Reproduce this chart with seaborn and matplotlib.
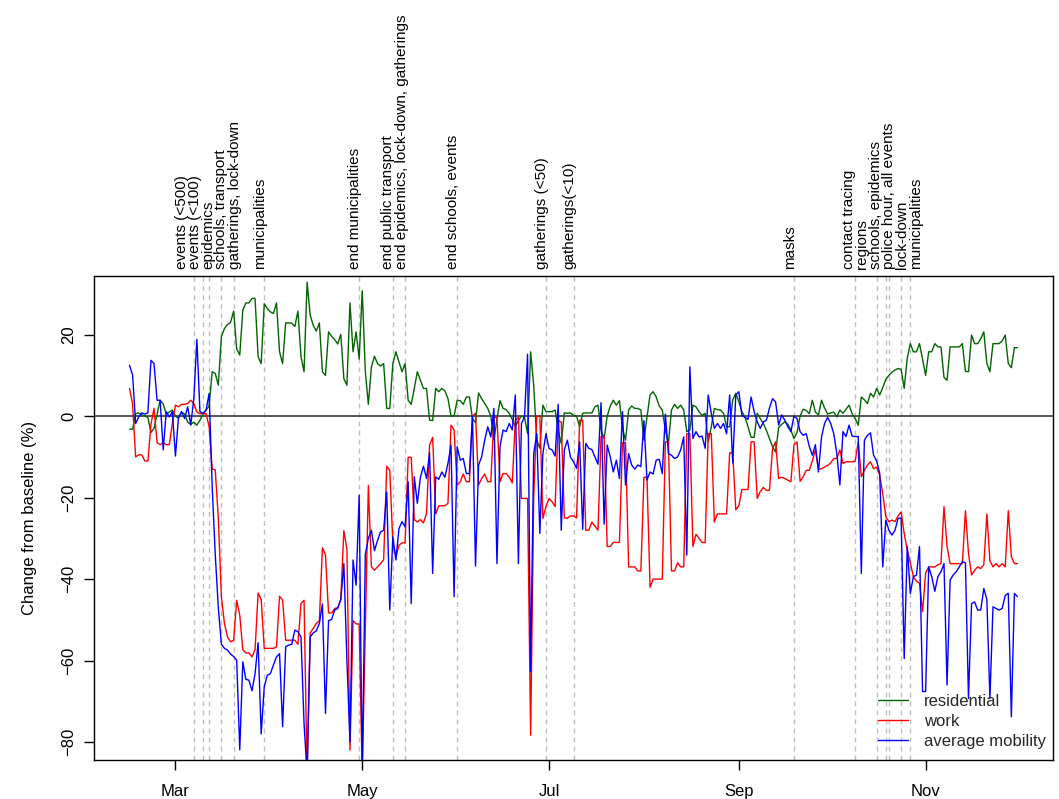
import matplotlib
matplotlib.use("Agg")
import matplotlib.pyplot as plt
import matplotlib.dates as mdates
import matplotlib.transforms as mtransforms
import numpy as np
import pandas as pd
import seaborn as sns

# ---------------- data ----------------
start_date = "2020-02-15"

residential = [
    -3.2, -3.2, 0.6, 0.8, 0.3, 0.0, -0.3, -4.0, -3.0, 0.5,
    3.9, 3.0, 0.5, 1.0, 1.5, 0.0, -0.5, 1.0, 0.5, -1.5,
    -2.0, -1.5, -2.2, -1.0, 0.5, 1.5, 2.5, 10.9, 10.5, 7.6,
    19.5, 21.5, 22.5, 23.0, 25.8, 16.5, 15.0, 26.0, 27.8, 27.8,
    28.9, 28.9, 14.6, 12.9, 27.6, 26.4, 25.6, 25.2, 27.8, 15.8,
    12.9, 22.9, 22.9, 22.8, 22.0, 25.8, 14.6, 10.9, 32.9, 24.8,
    22.3, 20.9, 22.9, 10.9, 10.0, 20.7, 19.6, 18.8, 17.7, 20.1,
    9.2, 7.6, 27.8, 15.8, 20.7, 14.0, 30.8, 11.0, 2.9, 12.1,
    14.7, 12.9, 12.3, 12.9, 1.9, 1.9, 12.9, 15.8, 13.3, 10.9,
    12.9, 3.9, 2.9, 6.8, 10.9, 8.8, 6.8, 6.8, -1.0, -1.1,
    6.8, 6.0, 6.8, 6.2, 4.3, 0.0, 0.0, 3.9, 3.8, 2.9,
    4.7, 4.7, -0.6, -1.6, 5.7, 4.3, 3.1, 1.9, 0.0, -5.9,
    -0.8, 3.8, 1.9, 1.6, 0.7, -0.8, -2.6, -1.0, 0.0, -0.3,
    -4.3, 15.8, 7.6, -5.9, -7.9, 2.7, 1.1, 1.1, 1.1, 1.5,
    -3.4, -6.7, 0.8, 0.7, 0.8, 0.2, 0.0, -2.6, 0.7, 0.8,
    0.8, 0.8, 2.3, 2.7, -3.4, -5.5, 0.0, 2.5, 3.9, 2.7,
    3.8, -3.0, -5.9, 1.5, 2.5, 1.9, 1.9, 1.5, -5.9, -0.2,
    5.2, 6.0, 4.7, 2.5, 1.5, -3.4, -6.7, 1.5, 2.9, 1.9,
    2.7, 1.5, -3.8, -3.4, 2.7, 2.3, 1.1, 0.2, 0.7, -6.3,
    -2.6, 1.9, 1.6, 1.5, 0.7, -2.6, -2.6, 4.0, 5.6, 3.5,
    1.1, -0.2, -2.6, -5.2, -5.2, 0.7, -0.6, -1.8, -3.5, -5.5,
    -7.5, -8.8, -2.8, -2.0, -1.4, -2.0, -3.4, -5.5, -4.0, 0.0,
    1.7, 1.4, 0.6, 3.9, 1.0, 0.3, 3.9, 2.0, 0.5, 0.8,
    1.0, -0.2, 1.5, 0.7, 1.7, 2.7, 0.6, -0.6, -2.2, 4.7,
    4.0, 3.1, 5.6, 4.7, 6.8, 5.2, 7.0, 9.0, 10.0, 10.8,
    11.3, 11.7, 11.5, 6.8, 14.2, 17.8, 15.8, 15.8, 17.8, 14.0,
    10.0, 15.8, 15.8, 17.8, 17.0, 17.0, 9.5, 8.8, 17.0, 17.0,
    17.0, 17.0, 17.8, 11.0, 10.9, 19.9, 17.8, 17.8, 19.0, 20.7,
    12.9, 10.9, 17.8, 17.8, 17.8, 18.5, 19.9, 12.9, 11.9, 16.8,
    16.8,
]

work = [
    6.8, 3.0, -10.0, -9.5, -9.5, -11.0, -11.0, -2.0, 1.9, -6.5,
    -7.0, -6.5, -7.0, -7.0, -1.8, 2.7, 2.3, 2.9, 2.9, 3.1,
    3.9, 3.1, 1.0, 0.6, 0.6, 0.6, -2.6, -13.0, -13.2, -25.0,
    -44.3, -50.9, -54.2, -55.4, -55.0, -45.2, -48.8, -57.3, -58.1, -58.1,
    -59.1, -57.3, -43.4, -45.0, -57.0, -57.0, -57.0, -57.0, -56.6, -44.2,
    -45.2, -55.0, -55.0, -55.0, -55.0, -56.0, -46.0, -45.2, -88.0, -53.2,
    -52.1, -50.9, -50.2, -32.3, -34.1, -48.3, -48.3, -47.2, -47.0, -45.0,
    -28.1, -32.7, -82.0, -50.2, -51.0, -51.0, -88.0, -52.0, -17.0, -37.0,
    -37.8, -37.0, -36.2, -35.2, -12.3, -13.3, -31.2, -34.5, -31.7, -31.1,
    -31.1, -10.1, -10.1, -25.4, -26.0, -25.4, -26.2, -23.9, -7.1, -5.2,
    -24.0, -22.0, -22.0, -22.0, -21.4, -2.2, -3.4, -16.9, -16.1, -14.2,
    -16.1, -16.1, 0.0, 0.7, -16.9, -15.3, -14.2, -16.1, -16.1, -0.3,
    -0.3, -16.1, -14.1, -14.1, -14.9, -16.4, -1.0, -0.3, -20.2, -20.2,
    -20.2, -78.3, -20.0, 0.0, 0.0, -25.1, -22.2, -20.2, -21.0, -22.2,
    -1.0, -1.5, -25.0, -25.0, -24.5, -24.5, -25.0, -1.0, -1.0, -28.0,
    -28.0, -26.0, -27.0, -28.0, -5.0, -5.0, -32.0, -32.0, -31.0, -31.0,
    -31.0, -6.5, -6.5, -37.0, -37.0, -37.0, -38.0, -38.0, -15.0, -15.0,
    -42.0, -40.0, -40.0, -40.0, -40.0, -6.3, -6.3, -38.0, -38.0, -36.0,
    -37.0, -37.0, -4.3, -4.3, -32.0, -29.0, -30.0, -31.0, -31.0, -4.3,
    -4.3, -26.0, -24.0, -24.0, -24.0, -24.0, -9.0, -9.0, -23.0, -22.0,
    -18.0, -18.0, -18.0, -6.3, -6.3, -20.2, -18.5, -17.5, -18.2, -18.2,
    -8.0, -6.3, -15.3, -15.0, -15.3, -15.7, -16.1, -7.0, -6.3, -16.0,
    -14.9, -13.3, -13.3, -11.0, -8.3, -13.0, -12.9, -12.5, -12.1, -11.5,
    -10.4, -10.4, -8.3, -11.6, -11.2, -11.2, -11.2, -11.0, -6.3, -14.9,
    -13.3, -12.0, -11.2, -12.9, -12.5, -14.5, -19.0, -24.7, -25.9, -25.5,
    -25.9, -24.5, -23.5, -28.8, -32.9, -36.0, -39.4, -40.5, -41.0, -48.0,
    -38.5, -37.0, -37.0, -37.0, -36.5, -36.2, -22.2, -32.0, -36.2, -36.2,
    -36.2, -36.2, -36.2, -23.2, -33.7, -39.0, -37.8, -37.0, -37.4, -36.5,
    -24.0, -35.5, -37.0, -36.2, -37.0, -36.2, -37.0, -23.2, -34.5, -36.2,
    -36.2,
]

average_mobility = [
    12.5, 10.1, -1.8, -0.2, 0.8, 0.5, 0.8, 13.7, 12.9, 3.9,
    3.9, -8.3, 1.1, -0.2, 1.1, -9.8, -0.2, 1.1, -0.6, 2.3,
    -2.2, 4.3, 18.8, 1.1, 0.7, 1.5, 5.6, -17.3, -34.0, -47.0,
    -56.0, -57.0, -57.4, -58.4, -59.0, -59.9, -81.9, -60.3, -64.6, -64.8,
    -67.4, -63.2, -55.6, -78.0, -66.4, -63.6, -63.2, -61.1, -59.1, -58.3,
    -76.2, -56.6, -56.2, -56.0, -52.5, -52.9, -54.2, -75.4, -88.0, -54.2,
    -53.2, -52.7, -50.9, -46.1, -73.0, -50.2, -49.9, -47.6, -47.2, -45.0,
    -36.2, -60.0, -80.0, -35.3, -41.5, -19.4, -88.0, -34.0, -30.0, -28.0,
    -33.0, -30.5, -28.4, -28.0, -18.6, -47.6, -29.6, -35.3, -27.6, -25.9,
    -27.2, -16.1, -46.0, -14.9, -21.4, -15.0, -12.3, -15.3, -9.0, -38.6,
    -14.9, -15.5, -13.7, -15.0, -11.6, -7.1, -44.3, -7.5, -10.8, -10.4,
    -14.1, -14.1, 0.0, -36.8, -12.0, -10.0, -5.9, -2.6, -5.1, 1.9,
    -36.2, -7.5, -3.4, -3.8, -1.8, -3.4, 5.2, -36.2, -1.8, -0.2,
    15.2, -62.7, -9.2, -4.3, -28.8, -9.2, -4.3, -7.9, -8.3, -9.8,
    2.9, -28.0, -8.3, -5.9, -10.0, -11.2, -12.8, -6.3, -27.8, -6.7,
    -7.9, -8.2, -10.0, -11.8, 3.3, -26.5, -7.1, -10.0, -13.7, -10.8,
    -15.3, 1.1, -16.9, -9.2, -12.0, -13.0, -12.0, -12.4, -1.1, -15.7,
    -13.7, -14.2, -10.8, -10.6, -14.1, 0.5, -9.2, -9.6, -10.4, -10.0,
    -8.3, -5.1, -34.1, 12.1, -5.5, -3.8, -5.1, -4.9, -7.9, 5.2,
    0.7, -3.0, -1.8, -3.0, -1.8, -4.3, 5.2, -11.5, 5.2, 6.0,
    0.2, -0.3, -0.8, 4.7, 1.1, -1.4, -3.0, -1.4, -1.0, 2.0,
    4.3, 3.5, -2.2, 0.3, -1.0, -2.6, -3.8, 0.0, -0.6, -3.8,
    -4.7, -4.3, -7.4, -9.6, -7.0, -13.7, -5.1, -1.8, -0.3, -1.8,
    -4.3, -9.2, -16.9, -3.8, -5.0, -2.2, -4.9, -5.0, -5.0, -38.6,
    -5.9, -4.7, -4.1, -9.6, -11.0, -14.0, -37.0, -25.5, -28.0, -29.2,
    -28.0, -25.1, -25.0, -59.5, -32.0, -43.5, -39.4, -39.0, -32.0, -67.6,
    -67.6, -37.0, -39.4, -43.0, -39.4, -38.2, -36.2, -66.0, -40.2, -39.0,
    -38.2, -37.0, -35.7, -36.0, -69.3, -46.0, -45.6, -47.6, -47.6, -42.3,
    -45.0, -69.3, -46.8, -47.2, -47.6, -47.2, -44.0, -43.5, -73.8, -43.5,
    -44.3,
]

series_names = ["residential", "work", "average mobility"]
series_colors = ["#006400", "#ff0000", "#0000ff"]

intervention_dates = [
    "2020-03-07", "2020-03-10", "2020-03-12", "2020-03-16", "2020-03-20",
    "2020-03-30", "2020-04-30", "2020-05-11", "2020-05-15", "2020-06-01",
    "2020-06-30", "2020-07-09", "2020-09-19", "2020-10-09", "2020-10-16",
    "2020-10-19", "2020-10-20", "2020-10-24", "2020-10-27",
]
intervention_labels = [
    "events (<500)", "events (<100)", "epidemics", "schools, transport",
    "gatherings, lock-down", "municipalities", "end municipalities",
    "end public transport", "end epidemics, lock-down, gatherings",
    "end schools, events", "gatherings (<50)", "gatherings(<10)", "masks",
    "contact tracing", "regions", "schools, epidemics",
    "police hour, all events", "lock-down", "municipalities",
]

month_ticks = ["2020-03-01", "2020-05-01", "2020-07-01", "2020-09-01", "2020-11-01"]
month_labels = ["Mar", "May", "Jul", "Sep", "Nov"]
y_ticks = [-80, -60, -40, -20, 0, 20]
y_range = (-80, 30)
y_label = "Change from baseline (%)"

# ---------------- frame ----------------
frames = []
for name, vals in zip(series_names, [residential, work, average_mobility]):
    frames.append(pd.DataFrame({
        "date": pd.date_range(start_date, periods=len(vals), freq="D"),
        "value": vals,
        "series": name,
    }))
long_df = pd.concat(frames, ignore_index=True)

sns.set_theme(style="white")
plt.rcParams["font.family"] = ["Liberation Sans", "DejaVu Sans"]
plt.rcParams["axes.unicode_minus"] = True

W, H = 1059, 799
fig = plt.figure(figsize=(W / 100, H / 100), dpi=100)
ax_l, ax_r, ax_t, ax_b = 94, 1053, 276, 760
ax = fig.add_axes([ax_l / W, 1 - ax_b / H, (ax_r - ax_l) / W, (ax_b - ax_t) / H])

# intervention lines
for d in intervention_dates:
    ax.axvline(pd.Timestamp(d), color="#bebebe", lw=1.0, ls=(0, (3.5, 3)), zorder=1)
ax.axhline(0, color="#4a4a4a", lw=1.3, zorder=2)

sns.lineplot(data=long_df, x="date", y="value", hue="series",
             hue_order=series_names,
             palette=dict(zip(series_names, series_colors)),
             estimator=None, linewidth=1.0, ax=ax, zorder=3)

# limits (R style 4% padding)
xd = mdates.date2num(long_df["date"])
x0, x1 = xd.min(), xd.max()
px = 0.04 * (x1 - x0)
ax.set_xlim(x0 - px, x1 + px)
py = 0.04 * (y_range[1] - y_range[0])
ax.set_ylim(y_range[0] - py, y_range[1] + py)

ax.set_xticks([mdates.date2num(pd.Timestamp(m)) for m in month_ticks])
ax.set_xticklabels(month_labels)
ax.set_yticks(y_ticks)
ax.set_xlabel("")
ax.set_ylabel(y_label, fontsize=12, color="black")
ax.yaxis.set_label_coords(-0.059, 0.5)

ax.tick_params(axis="both", which="major", direction="out", length=7, width=1,
               color="black", labelsize=12, labelcolor="black",
               bottom=True, left=True)
ax.tick_params(axis="x", pad=10)
ax.tick_params(axis="y", pad=6)
for lab in ax.get_yticklabels():
    lab.set_rotation(90)
    lab.set_va("center")

for s in ax.spines.values():
    s.set_visible(True)
    s.set_color("black")
    s.set_linewidth(1.0)

# intervention labels, spread to avoid overlap
xpos = [mdates.date2num(pd.Timestamp(d)) for d in intervention_dates]
gap = 13.3 / (ax_r - ax_l) * (ax.get_xlim()[1] - ax.get_xlim()[0])
groups = [[p] for p in xpos]

def place(g):
    c = np.mean(g)
    n = len(g)
    return [c + gap * (k - (n - 1) / 2) for k in range(n)]

changed = True
while changed:
    changed = False
    for k in range(len(groups) - 1):
        a = place(groups[k])
        b = place(groups[k + 1])
        if b[0] - a[-1] < gap - 1e-9:
            groups[k] = groups[k] + groups[k + 1]
            del groups[k + 1]
            changed = True
            break
label_x = [v for g in groups for v in place(g)]

trans = mtransforms.blended_transform_factory(ax.transData, ax.transAxes)
for xv, lab in zip(label_x, intervention_labels):
    ax.text(xv, 1.0145, lab, transform=trans, rotation=90,
            rotation_mode="anchor", ha="left", va="baseline",
            fontsize=11, color="black", clip_on=False)

handles, labels = ax.get_legend_handles_labels()
ax.legend(handles, labels, loc="lower left", bbox_to_anchor=(0.8175, 0.023),
          frameon=False, borderpad=0, borderaxespad=0, handlelength=1.8,
          handletextpad=0.95, labelspacing=0.30, fontsize=12)

fig.savefig("out.png", dpi=100)
